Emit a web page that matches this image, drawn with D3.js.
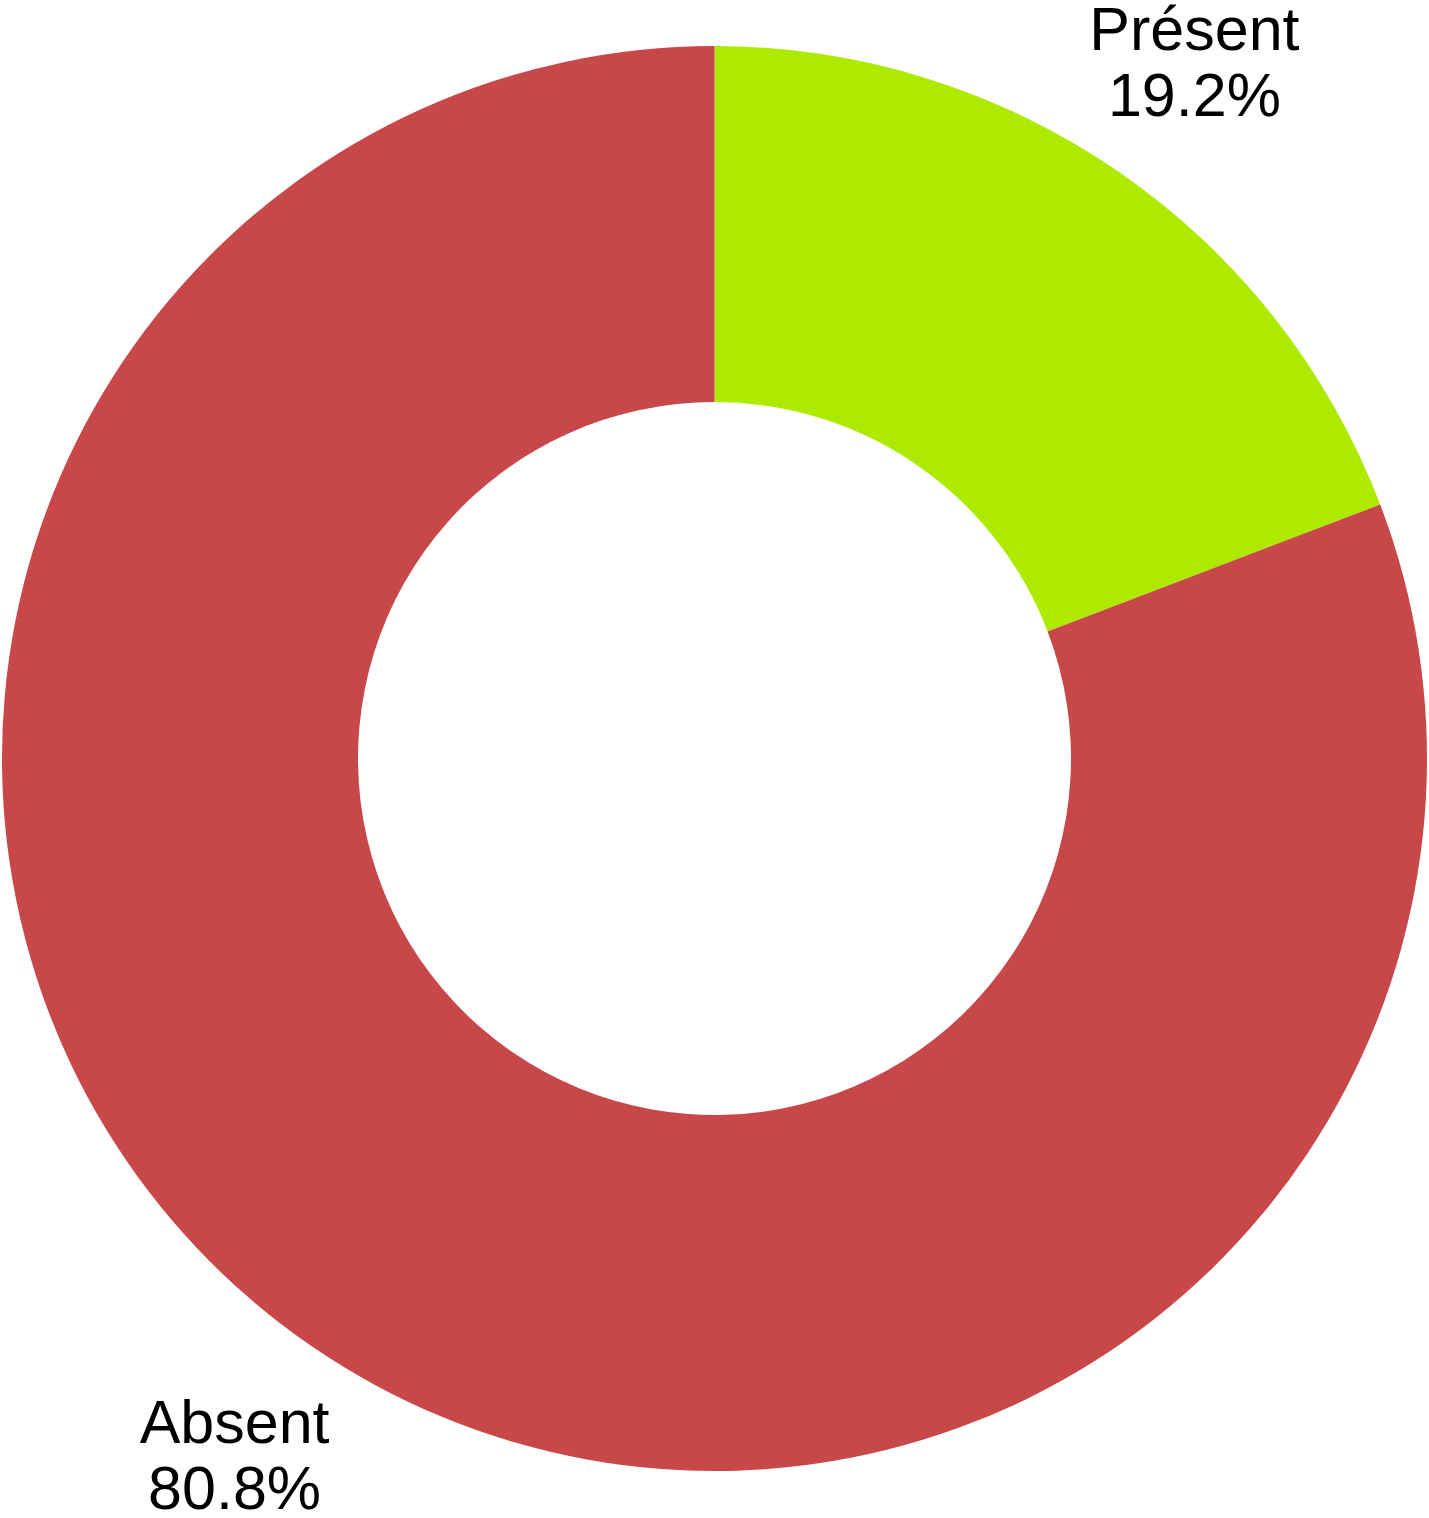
<!DOCTYPE html>
<html><head><meta charset="utf-8">
<script src="https://cdn.jsdelivr.net/npm/d3@7"></script>
<style>html,body{margin:0;padding:0;background:#fff;}svg{display:block;}</style>
</head><body>
<svg id="chart" width="1429" height="1518"></svg>
<script>
const categories = ["Présent", "Absent"];
const values = [19.2, 80.8];
const colors = ["#AEEA00", "#C84749"];

const W = 1429, H = 1518;
const cx = 714.5, cy = 758.5, R = 712.5, r = 356.5, labelR = 846;
const svg = d3.select("#chart");
const g = svg.append("g").attr("transform", `translate(${cx},${cy})`);
const data = categories.map((c, i) => ({cat: c, val: values[i], color: colors[i]}));
const pie = d3.pie().value(d => d.val).sort(null);
const arcs = pie(data);
const arc = d3.arc().innerRadius(r).outerRadius(R);
g.selectAll("path").data(arcs).join("path").attr("d", arc).attr("fill", d => d.data.color);
const larc = d3.arc().innerRadius(labelR).outerRadius(labelR);
const fmt = d3.format(".1f");
const lbl = g.selectAll("text.lbl").data(arcs).join("text").attr("class","lbl")
  .attr("transform", d => { const [x,y] = larc.centroid(d); return `translate(${x},${y})`; })
  .attr("text-anchor","middle")
  .style("font-family","'Liberation Sans', Arial, sans-serif").style("font-size","61px").attr("fill","#000");
lbl.append("tspan").attr("x",0).attr("y",-12).text(d => d.data.cat);
lbl.append("tspan").attr("x",0).attr("y",54).text(d => fmt(d.data.val) + "%");
</script>
</body></html>
